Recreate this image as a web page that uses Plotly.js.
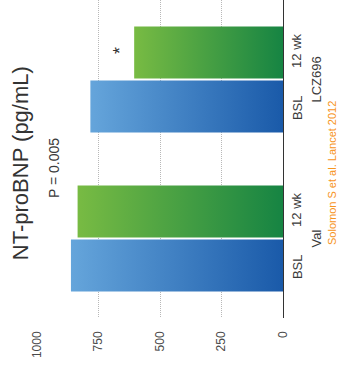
<!DOCTYPE html>
<html>
<head>
<meta charset="utf-8">
<script src="https://cdn.plot.ly/plotly-3.0.1.min.js"></script>
<style>
  html, body { margin: 0; padding: 0; background: #ffffff; }
  #chart { width: 339px; height: 367px; }
</style>
</head>
<body>
<div id="chart"></div>
<script>
// Treatment arms and time points
const groups = ['Val', 'LCZ696'];
const timepoints = ['BSL', '12 wk'];

// NT-proBNP (pg/mL) per arm
const bslValues = [862, 783];
const wk12Values = [835, 605];

// Value axis ticks
const valueTicks = [0, 250, 500, 750, 1000];

const FONT = '"Liberation Sans", "Helvetica Neue", Arial, sans-serif';

const traces = [
  { values: bslValues, name: timepoints[0], color: '#3a7fc4' },
  { values: wk12Values, name: timepoints[1], color: '#46a046' }
].map(t => ({
  type: 'bar',
  orientation: 'h',
  y: groups,
  x: t.values,
  name: t.name,
  marker: { color: t.color, line: { width: 0 } },
  hoverinfo: 'x'
}));

const annotations = [];

// Time point labels next to each bar, group labels beside them
groups.forEach((g, i) => {
  timepoints.forEach((tp, j) => {
    annotations.push({
      xref: 'paper', yref: 'y', x: 1, xshift: 14, y: i + (j === 0 ? -0.18 : 0.18),
      text: tp, textangle: -90, showarrow: false, xanchor: 'center', yanchor: 'middle',
      font: { family: FONT, size: 13, color: '#3a3a3a' }
    });
  });
  annotations.push({
    xref: 'paper', yref: 'y', x: 1, xshift: 33, y: i,
    text: g, textangle: -90, showarrow: false, xanchor: 'center', yanchor: 'middle',
    font: { family: FONT, size: 13, color: '#3a3a3a' }
  });
});

// Axis title
annotations.push({
  xref: 'paper', yref: 'paper', x: 0, xshift: -17, y: 0.487,
  text: 'NT-proBNP (pg/mL)', textangle: -90, showarrow: false,
  xanchor: 'center', yanchor: 'middle',
  font: { family: FONT, size: 22, color: '#333', weight: 300 }
});

// Significance notes
annotations.push({
  xref: 'x', yref: 'y', x: 930, y: 0.445,
  text: 'P = 0.005', textangle: -90, showarrow: false,
  xanchor: 'center', yanchor: 'middle',
  font: { family: FONT, size: 14, color: '#3a3a3a' }
});
annotations.push({
  xref: 'x', yref: 'y', x: 662, y: 1.18,
  text: '*', textangle: -90, showarrow: false,
  xanchor: 'center', yanchor: 'middle',
  font: { family: FONT, size: 18, color: '#333' }
});

// Source
annotations.push({
  xref: 'paper', yref: 'paper', x: 1, xshift: 49, y: 0.456,
  text: 'Solomon S et al. Lancet 2012', textangle: -90, showarrow: false,
  xanchor: 'center', yanchor: 'middle',
  font: { family: FONT, size: 11, color: '#f7941d' }
});

const layout = {
  width: 339,
  height: 367,
  margin: { l: 37, r: 56, t: 0, b: 49, pad: 0 },
  paper_bgcolor: '#ffffff',
  plot_bgcolor: '#ffffff',
  showlegend: false,
  barmode: 'group',
  bargap: 0.32,
  bargroupgap: 0.035,
  xaxis: {
    range: [1000, 0],
    tickvals: valueTicks,
    ticktext: valueTicks.map(String),
    tickangle: -90,
    ticks: '',
    ticklabelstandoff: 10,
    showgrid: true,
    gridcolor: '#b8b8b8',
    griddash: '1px,1px',
    gridwidth: 1,
    zeroline: true,
    zerolinecolor: '#333333',
    zerolinewidth: 1,
    showline: false,
    tickfont: { family: FONT, size: 12, color: '#4a4a4a' },
    fixedrange: true
  },
  yaxis: {
    type: 'category',
    range: [-0.5, 1.5],
    showticklabels: false,
    showgrid: false,
    zeroline: false,
    showline: false,
    ticks: '',
    fixedrange: true
  },
  annotations: annotations
};

// Gradient fills: light at the far end of each bar, dark at the base
const gradients = [
  { id: 'barGradBlue', from: '#65a5db', to: '#1a5aa9' },
  { id: 'barGradGreen', from: '#78bb43', to: '#168443' }
];

function applyGradients(gd) {
  const svg = gd.querySelector('svg.main-svg');
  if (!svg) return;
  const ns = 'http://www.w3.org/2000/svg';
  let defs = svg.querySelector('defs');
  if (!defs) { defs = document.createElementNS(ns, 'defs'); svg.insertBefore(defs, svg.firstChild); }
  gradients.forEach(g => {
    if (defs.querySelector('#' + g.id)) return;
    const lg = document.createElementNS(ns, 'linearGradient');
    lg.setAttribute('id', g.id);
    lg.setAttribute('x1', '0'); lg.setAttribute('y1', '0');
    lg.setAttribute('x2', '1'); lg.setAttribute('y2', '0');
    [[0, g.from], [1, g.to]].forEach(([off, col]) => {
      const s = document.createElementNS(ns, 'stop');
      s.setAttribute('offset', String(off));
      s.setAttribute('stop-color', col);
      lg.appendChild(s);
    });
    defs.appendChild(lg);
  });
  gd.querySelectorAll('.barlayer .trace').forEach((tr, i) => {
    const g = gradients[i % gradients.length];
    tr.querySelectorAll('.point path').forEach(p => {
      p.style.fill = 'url(#' + g.id + ')';
    });
  });
}

const gd = document.getElementById('chart');
Plotly.newPlot(gd, traces, layout, { displayModeBar: false, staticPlot: true })
  .then(() => applyGradients(gd));
</script>
</body>
</html>
